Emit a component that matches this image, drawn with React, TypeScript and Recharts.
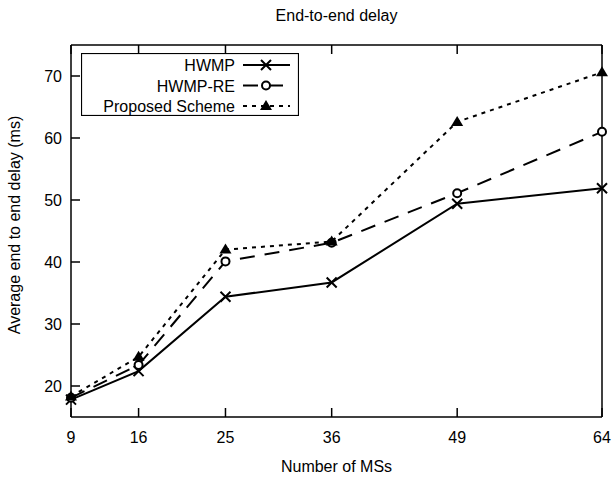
import React from "react";
import {
  LineChart,
  Line,
  XAxis,
  YAxis,
  Legend,
  Label,
} from "recharts";

// number of mesh stations
const nodes = [9, 16, 25, 36, 49, 64];
// average end-to-end delay (ms)
const hwmp = [17.8, 22.4, 34.4, 36.7, 49.4, 51.9];
const hwmpRe = [18.1, 23.4, 40.1, 43.1, 51.1, 61.0];
const proposed = [18.3, 24.7, 42.0, 43.3, 62.6, 70.6];

const xTicks = [9, 16, 25, 36, 49, 64];
const yTicks = [20, 30, 40, 50, 60, 70];

const FONT = "'Liberation Sans', Arial, sans-serif";
const INK = "#000";
const FS = 16;

const data = nodes.map((n, i) => ({
  n,
  hwmp: hwmp[i],
  hwmpRe: hwmpRe[i],
  proposed: proposed[i],
}));

type Kind = "cross" | "circle" | "triangle";

function Marker({ kind, cx, cy }: { kind: Kind; cx: number; cy: number }) {
  if (kind === "cross") {
    return (
      <path
        d={`M${cx - 5},${cy - 5}L${cx + 5},${cy + 5}M${cx - 5},${cy + 5}L${cx + 5},${cy - 5}`}
        stroke={INK}
        strokeWidth={2}
      />
    );
  }
  if (kind === "circle") {
    return <circle cx={cx} cy={cy} r={4} fill="#fff" stroke={INK} strokeWidth={2} />;
  }
  return (
    <path
      d={`M${cx},${cy - 6}L${cx + 6},${cy + 4}L${cx - 6},${cy + 4}Z`}
      fill={INK}
    />
  );
}

const dotFor = (kind: Kind) => (p: any) => (
  <Marker key={`${kind}-${p.index}`} kind={kind} cx={p.cx} cy={p.cy} />
);

const series = [
  { key: "hwmp", name: "HWMP", kind: "cross" as Kind, dash: undefined },
  { key: "hwmpRe", name: "HWMP-RE", kind: "circle" as Kind, dash: "15 10" },
  { key: "proposed", name: "Proposed Scheme", kind: "triangle" as Kind, dash: "4 5" },
];

function LegendBox() {
  return (
    <svg width={218} height={63} style={{ display: "block" }}>
      <rect x={0.5} y={0.5} width={217} height={62} fill="#fff" stroke={INK} strokeWidth={1.2} />
      {series.map((s, i) => {
        const y = 12 + i * 20.5;
        return (
          <g key={s.key}>
            <text
              x={154}
              y={y + 6}
              textAnchor="end"
              fontSize={FS}
              fontFamily={FONT}
              fill={INK}
            >
              {s.name}
            </text>
            <line
              x1={162}
              x2={209}
              y1={y}
              y2={y}
              stroke={INK}
              strokeWidth={2}
              strokeDasharray={s.dash}
            />
            <Marker kind={s.kind} cx={185} cy={y} />
          </g>
        );
      })}
    </svg>
  );
}

function YTitle({ viewBox }: any) {
  const x = 20;
  const y = viewBox.y + viewBox.height / 2 - 6;
  return (
    <text
      x={x}
      y={y}
      transform={`rotate(-90 ${x} ${y})`}
      textAnchor="middle"
      fontSize={FS}
      fontFamily={FONT}
      fill={INK}
    >
      Average end to end delay (ms)
    </text>
  );
}

export default function App() {
  return (
    <div
      style={{
        position: "absolute",
        left: 0,
        top: 0,
        width: 613,
        height: 479,
        background: "#fff",
        fontFamily: FONT,
      }}
    >
      <div
        style={{
          position: "absolute",
          left: 71,
          width: 531,
          top: 7,
          textAlign: "center",
          fontSize: FS,
          color: INK,
        }}
      >
        End-to-end delay
      </div>
      <LineChart
        width={613}
        height={479}
        data={data}
        margin={{ top: 44, right: 10, left: 0, bottom: 12 }}
      >
        <XAxis
          dataKey="n"
          type="number"
          domain={[9, 64]}
          ticks={xTicks}
          height={50}
          tickSize={-9}
          tickMargin={24}
          stroke={INK}
          strokeWidth={1.5}
          tick={{ fill: INK, fontSize: FS, fontFamily: FONT }}
        >
          <Label
            value="Number of MSs"
            position="insideBottom"
            offset={-5}
            fill={INK}
            fontSize={FS}
            fontFamily={FONT}
          />
        </XAxis>
        <XAxis
          xAxisId="top"
          orientation="top"
          type="number"
          dataKey="n"
          domain={[9, 64]}
          ticks={xTicks}
          height={1}
          tickSize={-9}
          stroke={INK}
          strokeWidth={1.5}
          tickFormatter={() => ""}
        />
        <YAxis
          type="number"
          domain={[15, 75]}
          ticks={yTicks}
          width={71}
          tickSize={-9}
          tickMargin={18}
          stroke={INK}
          strokeWidth={1.5}
          tick={{ fill: INK, fontSize: FS, fontFamily: FONT }}
        >
          <Label content={<YTitle />} />
        </YAxis>
        <YAxis
          yAxisId="right"
          orientation="right"
          type="number"
          domain={[15, 75]}
          ticks={yTicks}
          width={1}
          tickSize={-9}
          stroke={INK}
          strokeWidth={1.5}
          tickFormatter={() => ""}
        />
        <Legend
          layout="vertical"
          align="center"
          verticalAlign="middle"
          wrapperStyle={{ left: 81, top: 53, width: 218, height: 63 }}
          content={() => <LegendBox />}
        />
        {series.map((s) => (
          <Line
            key={s.key}
            dataKey={s.key}
            name={s.name}
            type="linear"
            stroke={INK}
            strokeWidth={2}
            strokeDasharray={s.dash}
            dot={dotFor(s.kind)}
            activeDot={false}
            isAnimationActive={false}
          />
        ))}
      </LineChart>
    </div>
  );
}
